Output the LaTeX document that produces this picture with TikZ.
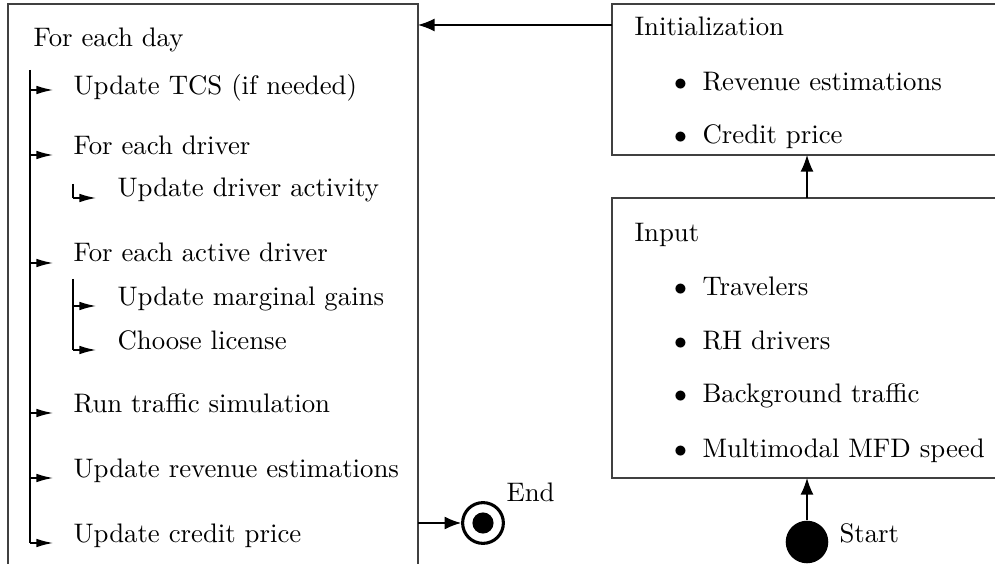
\documentclass[tikz,border=0pt]{standalone}
\usetikzlibrary{arrows.meta}
\tikzset{
  x=0.3875pt, y=-0.3875pt,
  frame/.style={draw=black!75, line width=0.5pt},
  lbl/.style={anchor=base west, inner sep=0pt, font=\fontsize{10.38pt}{12pt}\selectfont},
  itemarrow/.style={draw, line width=0.5pt, -{Latex[length=6.4pt,width=3.3pt]}},
  bigarrow/.style={draw, line width=0.5pt, -{Latex[length=6.4pt,width=5pt]}},
  branch/.style={draw, line width=0.5pt},
}
\newcommand{\bul}{\llap{$\bullet$\hspace{6pt}}}
\begin{document}
\begin{tikzpicture}
\clip (0,0) rectangle (995,564);
% left loop box
\draw[frame] (8,600) -- (8,4) -- (418,4) -- (418,600);
\coordinate (L) at (418,25);
\coordinate (Lend) at (418,523);
% right boxes
\draw[frame] (1010,4) -- (612,4) -- (612,155) -- (1010,155);
\draw[frame] (1010,198) -- (612,198) -- (612,478) -- (1010,478);
\coordinate (initW) at (612,25);
\coordinate (initS) at (807,155);
\coordinate (inN) at (807,198);
\coordinate (inS) at (807,478);

% left texts
\node[lbl] (day) at (33,47) {For each day};
\node[lbl] (t1) at (73,95) {Update TCS (if needed)};
\node[lbl] (t2) at (73,155) {For each driver};
\node[lbl] (t21) at (117,197) {Update driver activity};
\node[lbl] (t3) at (73,262) {For each active driver};
\node[lbl] (t31) at (117,306) {Update marginal gains};
\node[lbl] (t32) at (117,350) {Choose license};
\node[lbl] (t4) at (73,413) {Run traffic simulation};
\node[lbl] (t5) at (73,478) {Update revenue estimations};
\node[lbl] (t6) at (73,543) {Update credit price};

% main branch line
\coordinate (m0) at (30,70);
\coordinate (m1) at (30,90);
\coordinate (m2) at (30,155);
\coordinate (m3) at (30,263);
\coordinate (m4) at (30,413);
\coordinate (m5) at (30,478);
\coordinate (m6) at (30,543);
\path[branch] (m0) -- (m6);
\foreach \c/\y in {m1/90,m2/155,m3/263,m4/413,m5/478,m6/543}
  \path[itemarrow] (\c) -- (53,\y);
% sub branch lines
\coordinate (s0) at (73,184);
\coordinate (s1) at (73,198);
\path[branch] (s0) -- (s1);
\path[itemarrow] (s1) -- (96,198);
\coordinate (u0) at (73,279);
\coordinate (u1) at (73,306);
\coordinate (u2) at (73,350);
\path[branch] (u0) -- (u2);
\path[itemarrow] (u1) -- (96,306);
\path[itemarrow] (u2) -- (96,350);

% right texts
\node[lbl] (init) at (634,36) {Initialization};
\node[lbl] (r1) at (702,91) {\bul Revenue estimations};
\node[lbl] (r2) at (702,144) {\bul Credit price};
\node[lbl] (inp) at (634,242) {Input};
\node[lbl] (i1) at (702,296) {\bul Travelers};
\node[lbl] (i2) at (702,350) {\bul RH drivers};
\node[lbl] (i3) at (702,403) {\bul Background traffic};
\node[lbl] (i4) at (702,457) {\bul Multimodal MFD speed};

% start / end
\node[circle, fill=black, minimum size=16.5pt, inner sep=0pt] (start) at (807,542) {};
\node[lbl] (startl) at (839,543) {Start};
\node[circle, draw=black, line width=1.2pt, minimum size=15.8pt, inner sep=0pt] (end) at (483,523) {};
\node[circle, fill=black, minimum size=8.2pt, inner sep=0pt] (endin) at (end.center) {};
\node[lbl] (endl) at (506,502) {End};

% connectors
\path[bigarrow] (initW) -- (L);
\path[bigarrow] (inN) -- (initS);
\path[bigarrow] (start.north) -- (inS);
\path[bigarrow] (Lend) -- (end.west);
\end{tikzpicture}
\end{document}
